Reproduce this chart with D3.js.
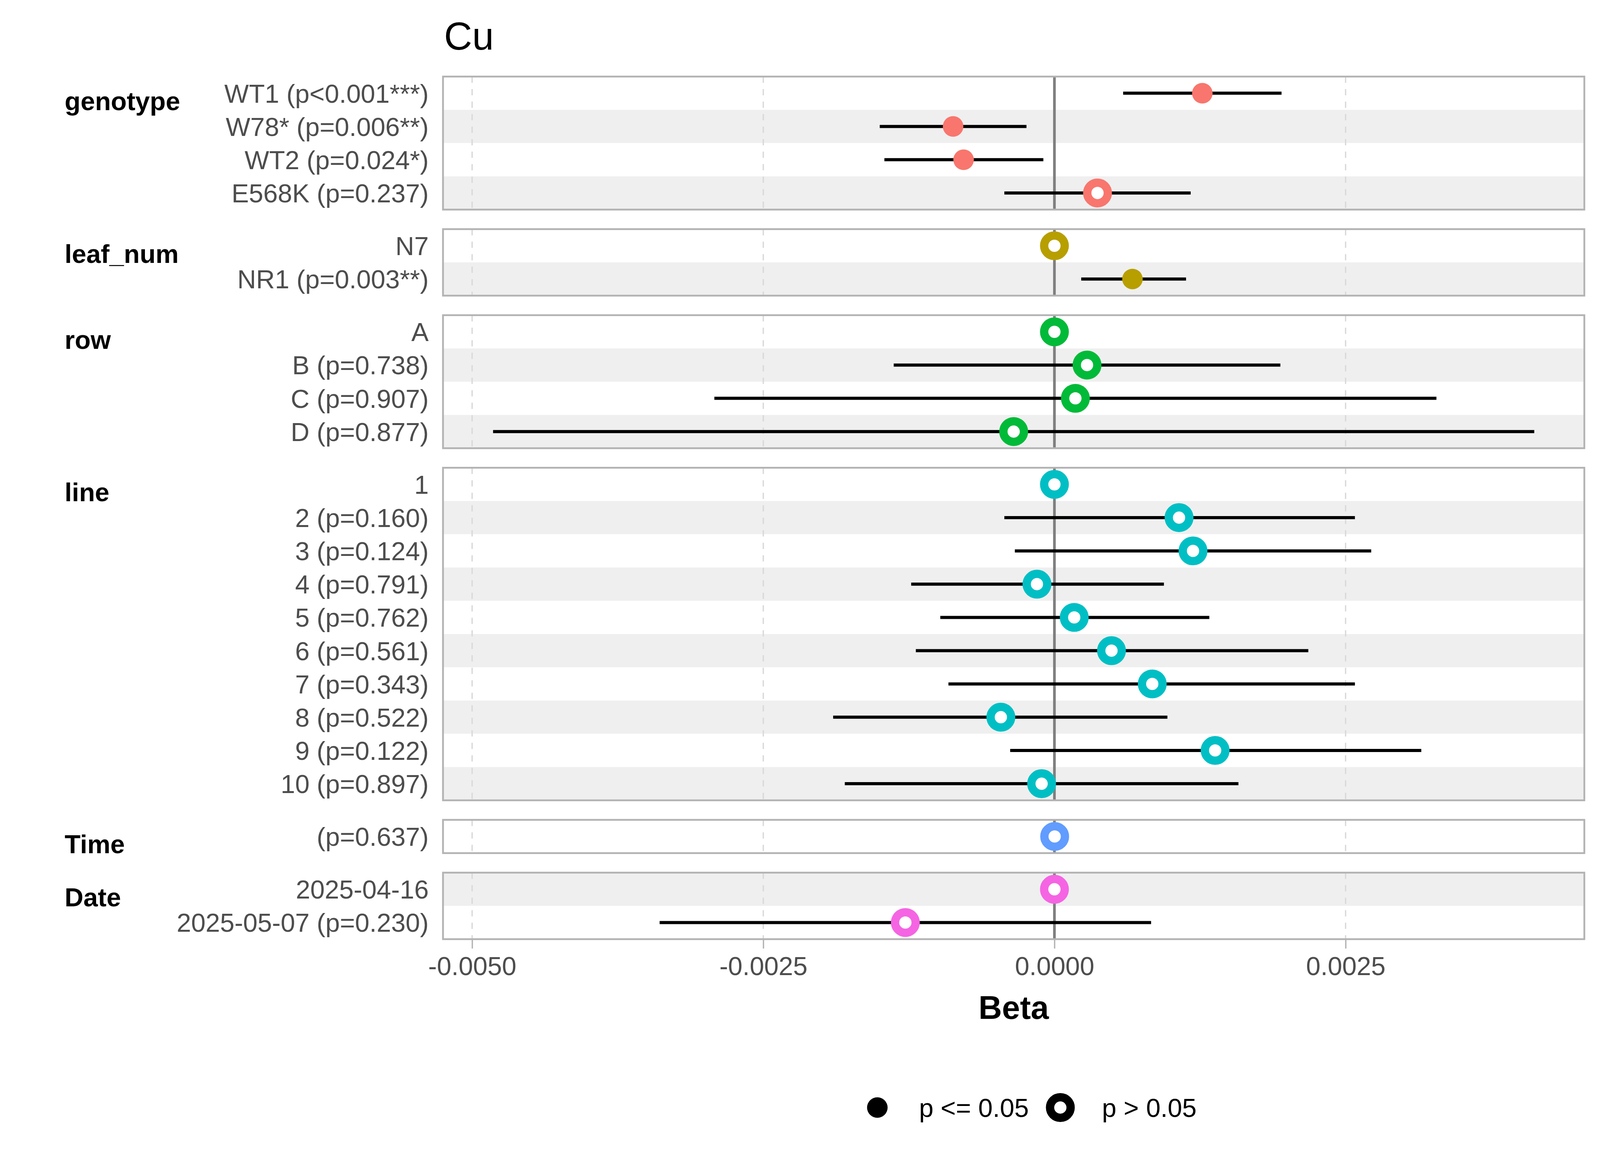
<!DOCTYPE html>
<html>
<head>
<meta charset="utf-8">
<script src="https://cdn.jsdelivr.net/npm/d3@7"></script>
<style>
	html, body { margin: 0; padding: 0; background: #fff; overflow: hidden; }
	#chart { display: block; }
	text { font-family: "Liberation Sans", Arial, sans-serif; }
</style>
</head>
<body>
<svg id="chart"></svg>
<script>

var groups		= ["genotype", "leaf_num", "row", "line", "Time", "Date"];
var groupColors	= ["#F8766D", "#B79F00", "#00BA38", "#00BFC4", "#619CFF", "#F564E3"];

// one entry per term, in plotting order (top to bottom)
var termGroup = [
	"genotype", "genotype", "genotype", "genotype",
	"leaf_num", "leaf_num",
	"row", "row", "row", "row",
	"line", "line", "line", "line", "line", "line", "line", "line", "line", "line",
	"Time",
	"Date", "Date"
];

var termLabel = [
	"WT1 (p<0.001***)", "W78* (p=0.006**)", "WT2 (p=0.024*)", "E568K (p=0.237)",
	"N7", "NR1 (p=0.003**)",
	"A", "B (p=0.738)", "C (p=0.907)", "D (p=0.877)",
	"1", "2 (p=0.160)", "3 (p=0.124)", "4 (p=0.791)", "5 (p=0.762)",
	"6 (p=0.561)", "7 (p=0.343)", "8 (p=0.522)", "9 (p=0.122)", "10 (p=0.897)",
	"(p=0.637)",
	"2025-04-16", "2025-05-07 (p=0.230)"
];

var beta = [
	0.00127, -0.00087, -0.00078, 0.00037,
	0, 0.00067,
	0, 0.00028, 0.00018, -0.00035,
	0, 0.00107, 0.00119, -0.00015, 0.00017, 0.00049, 0.00084, -0.00046, 0.00138, -0.00011,
	0.000002,
	0, -0.00128
];

var ciLow = [
	0.00059, -0.00150, -0.00146, -0.00043,
	null, 0.00023,
	null, -0.00138, -0.00292, -0.00482,
	null, -0.00043, -0.00034, -0.00123, -0.00098, -0.00119, -0.00091, -0.00190, -0.00038, -0.00180,
	-0.000004,
	null, -0.00339
];

var ciHigh = [
	0.00195, -0.00024, -0.000095, 0.00117,
	null, 0.00113,
	null, 0.00194, 0.00328, 0.00412,
	null, 0.00258, 0.00272, 0.00094, 0.00133, 0.00218, 0.00258, 0.00097, 0.00315, 0.00158,
	0.000008,
	null, 0.00083
];

var pValue = [
	0.0005, 0.006, 0.024, 0.237,
	null, 0.003,
	null, 0.738, 0.907, 0.877,
	null, 0.160, 0.124, 0.791, 0.762, 0.561, 0.343, 0.522, 0.122, 0.897,
	0.637,
	null, 0.230
];

var xTicks		= [-0.005, -0.0025, 0, 0.0025];
var legendLabels	= ["p <= 0.05", "p > 0.05"];

// layout is laid out on a 4800 x 3000 sheet, then fitted to the window
var BASE_W		= 4800;
var BASE_H		= 3000;
var PLOT_LEFT	= 1329;
var PLOT_RIGHT	= 4753;
var PLOT_TOP	= 196;
var ROW_H		= 85.13;
var PANEL_GAP	= 50;

var W	= window.innerWidth || BASE_W;
var H	= window.innerHeight || BASE_H;
var sx	= W / BASE_W;
var sy	= H / BASE_H;
var sf	= Math.sqrt(sx * sy);

var FONT = 72 * sf;

function X(v) { return v * sx; }
function Y(v) { return v * sy; }

var svg = d3.select("#chart")
	.attr("width", W)
	.attr("height", H);

var x = d3.scaleLinear()
	.domain([-0.00525, 0.00455])
	.range([X(PLOT_LEFT), X(PLOT_RIGHT)]);

var color = d3.scaleOrdinal().domain(groups).range(groupColors);

var terms = termLabel.map(function(label, i) {
	return {
		idx: i,
		group: termGroup[i],
		label: label,
		beta: beta[i],
		lo: ciLow[i],
		hi: ciHigh[i],
		sig: pValue[i] != null && pValue[i] <= 0.05
	};
});

// panel layout: height follows the number of terms
var panels = [];
var yCursor = PLOT_TOP;

groups.forEach(function(g) {

	var rows = terms.filter(function(t) { return t.group == g; });
	var h = rows.length * ROW_H;

	var y = d3.scaleBand()
		.domain(rows.map(function(t) { return t.label; }))
		.range([Y(yCursor), Y(yCursor + h)])
		.padding(0);

	panels.push({ group: g, rows: rows, top: Y(yCursor), bottom: Y(yCursor + h), y: y });
	yCursor += h + PANEL_GAP;
});

var plotBottom = panels[panels.length - 1].bottom;

// title
svg.append("text")
	.attr("x", X(1332))
	.attr("y", Y(127))
	.attr("font-size", 108 * sf)
	.attr("fill", "#000")
	.text("Cu");

panels.forEach(function(p) {

	var g = svg.append("g").attr("class", "panel");
	var mid = function(t) { return p.y(t.label) + p.y.bandwidth() / 2; };

	// alternating stripes, counted over all terms
	g.selectAll("rect.stripe")
		.data(p.rows)
		.enter().append("rect")
		.attr("x", X(PLOT_LEFT))
		.attr("y", function(t) { return p.y(t.label); })
		.attr("width", X(PLOT_RIGHT - PLOT_LEFT))
		.attr("height", p.y.bandwidth())
		.attr("fill", function(t) { return t.idx % 2 == 1 ? "#efefef" : "#ffffff"; });

	g.selectAll("line.grid")
		.data(xTicks.filter(function(v) { return v != 0; }))
		.enter().append("line")
		.attr("x1", function(v) { return x(v); })
		.attr("x2", function(v) { return x(v); })
		.attr("y1", p.top)
		.attr("y2", p.bottom)
		.attr("stroke", "#d9d9d9")
		.attr("stroke-width", 4 * sx)
		.attr("stroke-dasharray", (16 * sy) + "," + (16 * sy));

	g.append("line")
		.attr("x1", x(0))
		.attr("x2", x(0))
		.attr("y1", p.top)
		.attr("y2", p.bottom)
		.attr("stroke", "#7f7f7f")
		.attr("stroke-width", 8 * sx);

	g.selectAll("line.ci")
		.data(p.rows.filter(function(t) { return t.lo != null; }))
		.enter().append("line")
		.attr("x1", function(t) { return x(t.lo); })
		.attr("x2", function(t) { return x(t.hi); })
		.attr("y1", mid)
		.attr("y2", mid)
		.attr("stroke", "#000")
		.attr("stroke-width", 8 * sy);

	g.selectAll("circle.pt")
		.data(p.rows)
		.enter().append("circle")
		.attr("cx", function(t) { return x(t.beta); })
		.attr("cy", mid)
		.attr("r", 28.5 * sf)
		.attr("fill", function(t) { return t.sig ? color(t.group) : "#fff"; })
		.attr("stroke", function(t) { return t.sig ? "none" : color(t.group); })
		.attr("stroke-width", 23 * sf);

	g.append("rect")
		.attr("x", X(PLOT_LEFT))
		.attr("y", p.top)
		.attr("width", X(PLOT_RIGHT - PLOT_LEFT))
		.attr("height", p.bottom - p.top)
		.attr("fill", "none")
		.attr("stroke", "#b3b3b3")
		.attr("stroke-width", 5 * sf);

	// term labels
	g.selectAll("text.term")
		.data(p.rows)
		.enter().append("text")
		.attr("x", X(1286))
		.attr("y", function(t) { return mid(t) + 26 * sf; })
		.attr("text-anchor", "end")
		.attr("font-size", FONT)
		.attr("fill", "#4d4d4d")
		.text(function(t) { return t.label; });

	// group strip label
	g.append("text")
		.attr("x", X(194))
		.attr("y", Math.min(p.top + Y(86), p.bottom))
		.attr("font-size", FONT)
		.attr("font-weight", "bold")
		.attr("fill", "#000")
		.text(p.group);
});

// x axis
var fmt = function(v) { return d3.format(".4f")(v).replace("\u2212", "-"); };

var axis = svg.append("g")
	.attr("transform", "translate(0," + plotBottom + ")")
	.call(d3.axisBottom(x)
		.tickValues(xTicks)
		.tickFormat(fmt)
		.tickSize(Y(24))
		.tickPadding(Y(21)));

axis.select(".domain").remove();
axis.selectAll(".tick line")
	.attr("stroke", "#b3b3b3")
	.attr("stroke-width", 4 * sx);
axis.selectAll(".tick text")
	.attr("font-size", FONT)
	.attr("font-family", "Liberation Sans, Arial, sans-serif")
	.attr("fill", "#4d4d4d");

svg.append("text")
	.attr("x", X((PLOT_LEFT + PLOT_RIGHT) / 2))
	.attr("y", Y(2608))
	.attr("text-anchor", "middle")
	.attr("font-size", 90 * sf)
	.attr("font-weight", "bold")
	.attr("fill", "#000")
	.text("Beta");

// legend
var legendX = [2632, 3181];
var legend = svg.append("g").attr("class", "legend");

legendLabels.forEach(function(label, i) {

	legend.append("circle")
		.attr("cx", X(legendX[i]))
		.attr("cy", Y(2835))
		.attr("r", 28.5 * sf)
		.attr("fill", i == 0 ? "#000" : "#fff")
		.attr("stroke", i == 0 ? "none" : "#000")
		.attr("stroke-width", 23 * sf);

	legend.append("text")
		.attr("x", X(legendX[i] + 125))
		.attr("y", Y(2835) + 26 * sf)
		.attr("font-size", FONT)
		.attr("fill", "#000")
		.text(label);
});

</script>
</body>
</html>
